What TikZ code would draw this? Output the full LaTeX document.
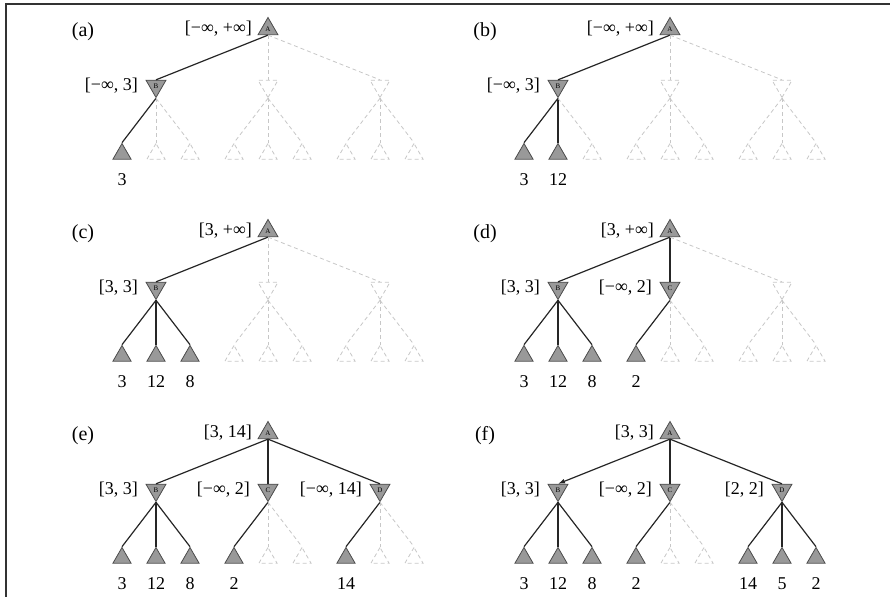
\documentclass[tikz,border=0pt]{standalone}
\usepackage{fontspec}
\setmainfont{Liberation Serif}
\usepackage{ifthen}
\usetikzlibrary{shapes.geometric, arrows.meta, positioning}

\begin{document}
\begin{tikzpicture}[
        x=0.5pt, y=0.5pt,
        font=\fontsize{9}{10}\selectfont,
        tri/.style={regular polygon, regular polygon sides=3, minimum size=11.5pt, inner sep=0pt, font=\fontsize{3.5}{4}\selectfont},
        maxnode/.style={tri, draw=black!70, fill=black!40},
        minnode/.style={maxnode, regular polygon rotate=180},
        leafnode/.style={maxnode, minimum size=10.5pt},
        ghostmin/.style={tri, regular polygon rotate=180, draw=black!22, dash pattern=on 2pt off 1.5pt},
        ghostleaf/.style={tri, minimum size=10.5pt, draw=black!22, dash pattern=on 2pt off 1.5pt},
        live/.style={draw=black!85, semithick},
        ghost/.style={draw=black!22, dash pattern=on 2pt off 1.5pt},
        plain/.style={},
        best/.style={-{Latex[length=3.5pt, width=2.5pt]}},
        tag/.style={font=\fontsize{10}{12}\selectfont}
    ]
    \useasboundingbox (0,0) rectangle (890,-597);
    \draw[black!80, line width=1pt] (6,-597) -- (6,-4) -- (890,-4);

    % one search stage per panel: root bound, bounds of B/C/D, leaf values
    \foreach \p/\px/\py/\la/\lb/\lc/\ld/\vals in {
        a/268/29/{[−∞, +∞]}/{[−∞, 3]}/none/none/{3,-,-,-,-,-,-,-,-},
        b/670/29/{[−∞, +∞]}/{[−∞, 3]}/none/none/{3,12,-,-,-,-,-,-,-},
        c/268/231/{[3, +∞]}/{[3, 3]}/none/none/{3,12,8,-,-,-,-,-,-},
        d/670/231/{[3, +∞]}/{[3, 3]}/{[−∞, 2]}/none/{3,12,8,2,-,-,-,-,-},
        e/268/433/{[3, 14]}/{[3, 3]}/{[−∞, 2]}/{[−∞, 14]}/{3,12,8,2,-,-,14,-,-},
        f/670/433/{[3, 3]}/{[3, 3]}/{[−∞, 2]}/{[2, 2]}/{3,12,8,2,-,-,14,5,2}}{
      \begin{scope}[shift={(\px,-\py)}]
        \node[tag] (\p-tag) at (-185,-3) {(\p)};
        \node[maxnode] (\p-A) at (0,0) {A};
        \node[left=1pt of \p-A] (\p-valA) {\la};
        \foreach \q/\qx/\qv in {B/-112/\lb, C/0/\lc, D/112/\ld}{
          \ifthenelse{\equal{\qv}{none}}
            {\def\st{ghostmin}\def\es{ghost}\def\nt{}}
            {\def\st{minnode}\def\es{live}\def\nt{\q}}
          \ifthenelse{\equal{\p\q}{fB}}{\def\tip{best}}{\def\tip{plain}}
          \node[\st] (\p-\q) at (\qx,-57) {\nt};
          \ifthenelse{\equal{\qv}{none}}{}{\node[left=2pt of \p-\q] (\p-val\q) {\qv};}
          \draw[\es, \tip] (\p-A.side 2) -- (\p-\q.side 2);
        }
        \foreach \v [count=\i] in \vals {
          \pgfmathsetmacro\lx{34*(\i-5)+10*((\i>6)-(\i<4))}
          \ifnum\i<4 \def\up{B}\else\ifnum\i<7 \def\up{C}\else\def\up{D}\fi\fi
          \ifthenelse{\equal{\v}{-}}{
            \node[ghostleaf] (\p-\i) at (\lx,-125) {};
            \draw[ghost] (\p-\up.corner 1) -- (\p-\i.corner 1);
          }{
            \node[leafnode] (\p-\i) at (\lx,-125) {};
            \node (\p-val\i) at (\lx,-151) {\v};
            \draw[live] (\p-\up.corner 1) -- (\p-\i.corner 1);
          }
        }
      \end{scope}
    }
\end{tikzpicture}
\end{document}
